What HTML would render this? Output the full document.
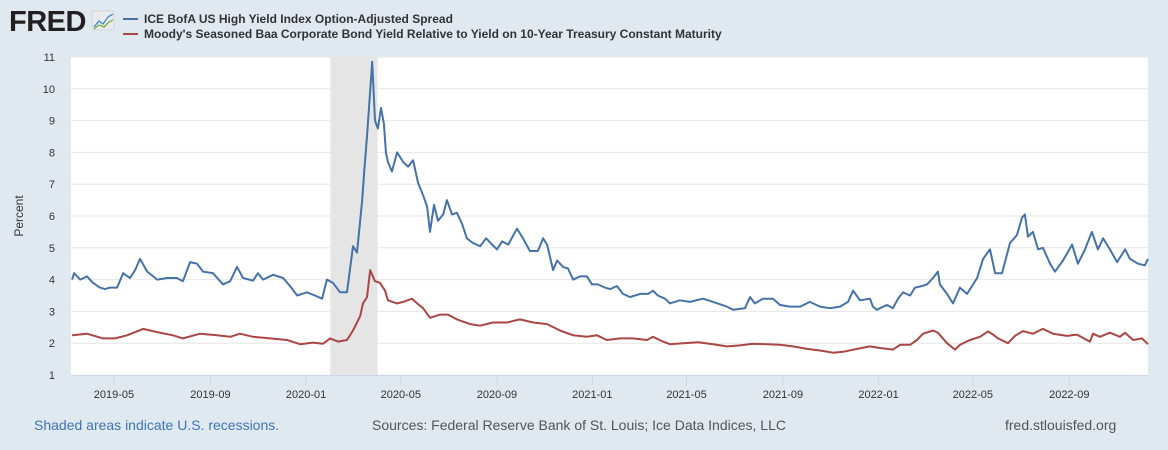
<!DOCTYPE html>
<html><head><meta charset="utf-8"><style>
html,body{margin:0;padding:0;background:#e1e9f0;width:1168px;height:450px;overflow:hidden;font-family:"Liberation Sans",Arial,sans-serif;}
</style></head><body>
<svg id="chart" width="1168" height="450" xmlns="http://www.w3.org/2000/svg" font-family="Liberation Sans, Arial, sans-serif">
<rect width="1168" height="450" fill="#e1e9f0"/>
<g>
<text x="9" y="31" font-size="29" font-weight="bold" fill="#231f20" letter-spacing="-0.5">FRED</text>
<rect x="92" y="11" width="22" height="19" rx="2" fill="#e8ecef" stroke="#cfd6dc"/>
<polyline points="94,27 99,21 103,24 108,17 113,14" fill="none" stroke="#4a8fc8" stroke-width="1.4"/>
<polyline points="94,29 99,25 104,27 109,22 113,20" fill="none" stroke="#7cb342" stroke-width="1.4"/>
</g>
<g>
<g><line x1="123" y1="19" x2="138" y2="19" stroke="#4572a7" stroke-width="2"/><text x="144" y="23" font-size="12" font-weight="bold" fill="#333">ICE BofA US High Yield Index Option-Adjusted Spread</text></g>
<g><line x1="123" y1="34" x2="138" y2="34" stroke="#aa4643" stroke-width="2"/><text x="144" y="38" font-size="12" font-weight="bold" fill="#333">Moody's Seasoned Baa Corporate Bond Yield Relative to Yield on 10-Year Treasury Constant Maturity</text></g>
</g>
<rect x="71" y="57" width="1077" height="318" fill="#fff"/>
<g id="grid"></g>
<g id="rec"></g>
<g id="series"></g>
<g id="axes"></g>
<text transform="translate(23,216) rotate(-90)" text-anchor="middle" font-size="12" fill="#333">Percent</text>
<text x="34" y="430" font-size="14" fill="#3c74b8">Shaded areas indicate U.S. recessions.</text>
<text x="372" y="430" font-size="14" fill="#555">Sources: Federal Reserve Bank of St. Louis; Ice Data Indices, LLC</text>
<text x="1005" y="430" font-size="14" fill="#555">fred.stlouisfed.org</text>
</svg>
<script>
const yTicks=[1,2,3,4,5,6,7,8,9,10,11];
const xTickLabels=["2019-05","2019-09","2020-01","2020-05","2020-09","2021-01","2021-05","2021-09","2022-01","2022-05","2022-09"];
const xTickTimes=[2019.329,2019.666,2020.0,2020.331,2020.667,2021.0,2021.329,2021.666,2022.0,2022.329,2022.666];
const recession=[2020.085,2020.250];
const hyDates=[2019.183,2019.190,2019.211,2019.235,2019.256,2019.280,2019.298,2019.315,2019.340,2019.361,2019.385,2019.403,2019.420,2019.445,2019.480,2019.515,2019.549,2019.570,2019.595,2019.619,2019.640,2019.675,2019.710,2019.735,2019.759,2019.780,2019.815,2019.832,2019.850,2019.885,2019.920,2019.944,2019.969,2020.003,2020.031,2020.056,2020.073,2020.094,2020.119,2020.143,2020.164,2020.178,2020.196,2020.203,2020.213,2020.231,2020.241,2020.251,2020.262,2020.272,2020.279,2020.286,2020.300,2020.318,2020.339,2020.356,2020.374,2020.391,2020.409,2020.423,2020.433,2020.447,2020.461,2020.479,2020.492,2020.510,2020.527,2020.545,2020.562,2020.583,2020.608,2020.629,2020.650,2020.667,2020.685,2020.706,2020.737,2020.758,2020.782,2020.810,2020.828,2020.842,2020.863,2020.877,2020.898,2020.915,2020.933,2020.957,2020.981,2020.999,2021.020,2021.044,2021.062,2021.086,2021.107,2021.132,2021.167,2021.195,2021.212,2021.229,2021.254,2021.271,2021.306,2021.341,2021.387,2021.422,2021.470,2021.491,2021.533,2021.551,2021.568,2021.596,2021.631,2021.656,2021.691,2021.726,2021.760,2021.795,2021.830,2021.865,2021.893,2021.911,2021.935,2021.970,2021.980,2021.994,2022.005,2022.029,2022.050,2022.068,2022.085,2022.110,2022.127,2022.152,2022.169,2022.190,2022.207,2022.214,2022.239,2022.260,2022.284,2022.309,2022.344,2022.365,2022.389,2022.407,2022.431,2022.459,2022.483,2022.501,2022.511,2022.522,2022.539,2022.557,2022.574,2022.599,2022.616,2022.644,2022.676,2022.696,2022.721,2022.745,2022.766,2022.784,2022.808,2022.833,2022.861,2022.878,2022.906,2022.930,2022.941];
const hyValues=[4.0,4.2,4.0,4.1,3.9,3.75,3.7,3.75,3.75,4.2,4.05,4.3,4.65,4.25,4.0,4.05,4.05,3.95,4.55,4.5,4.25,4.2,3.85,3.95,4.4,4.05,3.97,4.2,4.0,4.15,4.05,3.8,3.5,3.6,3.5,3.4,4.0,3.9,3.6,3.6,5.05,4.85,6.5,7.4,8.5,10.85,9.0,8.75,9.4,8.9,8.0,7.7,7.4,8.0,7.7,7.55,7.75,7.05,6.65,6.3,5.5,6.35,5.85,6.05,6.5,6.05,6.1,5.75,5.3,5.15,5.05,5.3,5.1,4.95,5.2,5.1,5.6,5.3,4.9,4.9,5.3,5.1,4.3,4.6,4.4,4.35,4.0,4.1,4.1,3.85,3.85,3.75,3.7,3.8,3.55,3.45,3.55,3.55,3.65,3.5,3.4,3.25,3.35,3.3,3.4,3.3,3.15,3.05,3.1,3.45,3.25,3.4,3.4,3.2,3.15,3.15,3.3,3.15,3.1,3.15,3.3,3.65,3.35,3.4,3.15,3.05,3.1,3.2,3.1,3.4,3.6,3.5,3.75,3.8,3.85,4.05,4.25,3.85,3.55,3.25,3.75,3.55,4.05,4.65,4.95,4.2,4.2,5.15,5.4,5.95,6.05,5.35,5.5,4.95,5.0,4.5,4.25,4.6,5.1,4.5,4.95,5.5,4.95,5.3,4.95,4.55,4.95,4.65,4.5,4.45,4.65];
const baaDates=[2019.183,2019.235,2019.291,2019.333,2019.375,2019.431,2019.480,2019.535,2019.570,2019.630,2019.689,2019.735,2019.769,2019.815,2019.874,2019.934,2019.979,2020.024,2020.059,2020.084,2020.112,2020.143,2020.164,2020.189,2020.199,2020.213,2020.224,2020.241,2020.258,2020.276,2020.286,2020.318,2020.339,2020.370,2020.388,2020.409,2020.433,2020.468,2020.496,2020.527,2020.573,2020.608,2020.653,2020.702,2020.747,2020.793,2020.842,2020.887,2020.933,2020.981,2021.016,2021.051,2021.097,2021.142,2021.191,2021.212,2021.247,2021.271,2021.317,2021.369,2021.422,2021.470,2021.516,2021.561,2021.610,2021.656,2021.701,2021.750,2021.795,2021.841,2021.876,2021.925,2021.970,2022.005,2022.050,2022.075,2022.110,2022.134,2022.155,2022.190,2022.207,2022.239,2022.267,2022.284,2022.319,2022.354,2022.382,2022.400,2022.417,2022.452,2022.476,2022.504,2022.539,2022.574,2022.609,2022.658,2022.693,2022.738,2022.749,2022.773,2022.808,2022.843,2022.861,2022.889,2022.920,2022.941];
const baaValues=[2.25,2.3,2.15,2.15,2.25,2.45,2.35,2.25,2.15,2.3,2.25,2.2,2.3,2.2,2.15,2.1,1.97,2.02,1.98,2.15,2.05,2.1,2.4,2.85,3.25,3.45,4.3,3.95,3.9,3.65,3.35,3.25,3.3,3.4,3.25,3.1,2.8,2.9,2.9,2.75,2.6,2.55,2.65,2.65,2.75,2.65,2.6,2.4,2.25,2.2,2.25,2.1,2.15,2.15,2.1,2.2,2.05,1.97,2.0,2.03,1.97,1.9,1.93,1.98,1.97,1.95,1.9,1.82,1.77,1.7,1.73,1.82,1.9,1.85,1.8,1.95,1.95,2.1,2.3,2.4,2.33,2.0,1.8,1.95,2.1,2.2,2.37,2.27,2.15,2.0,2.23,2.38,2.3,2.45,2.3,2.23,2.27,2.05,2.3,2.2,2.33,2.2,2.33,2.1,2.15,1.97];

const NS="http://www.w3.org/2000/svg";
const L=71,R=1148,T=57,B=375,T0=2019.179,T1=2022.941,YMIN=1,YMAX=11;
function xs(t){return L+(t-T0)/(T1-T0)*(R-L);}
function ys(v){return B-(v-YMIN)/(YMAX-YMIN)*(B-T);}
function mk(tag,attrs,parent){const e=document.createElementNS(NS,tag);for(const k in attrs)e.setAttribute(k,attrs[k]);parent.appendChild(e);return e;}
const grid=document.getElementById('grid'),axes=document.getElementById('axes'),rec=document.getElementById('rec'),ser=document.getElementById('series');
yTicks.forEach(v=>{
  if(v>YMIN){const g=mk('line',{x1:L,x2:R,y1:ys(v),y2:ys(v),stroke:'#e6e6e6','stroke-width':1},grid);
  
  }
  const t=mk('text',{x:55,y:ys(v)+4,'text-anchor':'end','font-size':11,fill:'#333'},axes);
  t.textContent=v;
  
  
});
const r=mk('rect',{x:xs(recession[0]),y:T,width:xs(recession[1])-xs(recession[0]),height:B-T,fill:'#e5e5e5'},rec);


const ax=mk('line',{x1:L,x2:R,y1:B+0.5,y2:B+0.5,stroke:'#ccd6eb','stroke-width':1},axes);


xTickTimes.forEach((t,i)=>{
  const x=xs(t);
  const tk=mk('line',{x1:x,x2:x,y1:B,y2:B+10,stroke:'#ccd6eb'},axes);
  
  
  const lb=mk('text',{x:x,y:B+23,'text-anchor':'middle','font-size':11,fill:'#333'},axes);
  lb.textContent=xTickLabels[i];
  
  
});
function line(d,v,color,name){
  const pts=d.map((t,i)=>xs(t).toFixed(1)+','+ys(v[i]).toFixed(1)).join(' ');
  const p=mk('polyline',{points:pts,fill:'none',stroke:color,'stroke-width':2,'stroke-linejoin':'round'},ser);
  
  
}
line(baaDates,baaValues,'#aa4643','baa-spread-line');
line(hyDates,hyValues,'#4572a7','hy-spread-line');
</script>
</body></html>
